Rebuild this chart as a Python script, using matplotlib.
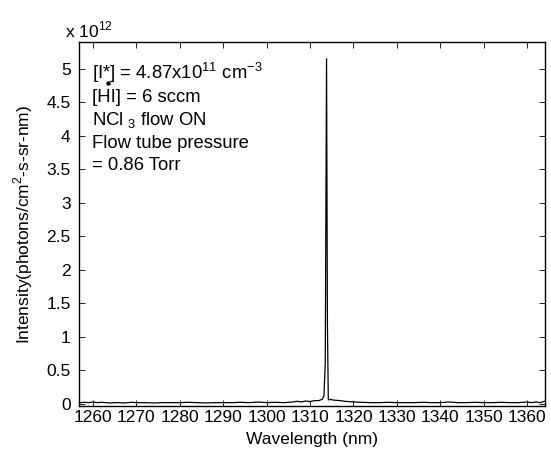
import matplotlib
matplotlib.use('Agg')
import matplotlib.pyplot as plt
import numpy as np

plt.rcParams['font.family'] = ['Liberation Sans', 'DejaVu Sans']
plt.rcParams['mathtext.fontset'] = 'custom'
plt.rcParams['mathtext.rm'] = 'Liberation Sans'

# ── data (intensity in units of 1e12) ──
wavelength = [1257.0, 1258.0, 1259.0, 1260.0, 1261.0, 1262.0, 1263.0, 1264.0,
              1265.0, 1266.0, 1267.0, 1268.0, 1269.0, 1270.0, 1272.0, 1274.0,
              1276.0, 1278.0, 1280.0, 1282.0, 1284.0, 1286.0, 1288.0, 1290.0,
              1292.0, 1294.0, 1296.0, 1298.0, 1300.0, 1302.0, 1304.0, 1306.0,
              1307.0, 1308.0, 1309.0, 1310.0, 1311.0, 1312.0, 1312.8, 1313.2,
              1313.5, 1313.8, 1314.0, 1314.2, 1314.4, 1314.7, 1315.2, 1316.0,
              1317.0, 1318.0, 1319.0, 1320.0, 1322.0, 1324.0, 1326.0, 1328.0,
              1330.0, 1332.0, 1334.0, 1336.0, 1338.0, 1340.0, 1342.0, 1344.0,
              1346.0, 1348.0, 1350.0, 1352.0, 1354.0, 1356.0, 1358.0, 1360.0,
              1361.0, 1362.0, 1363.0, 1364.0]
intensity = [0.02, 0.025, 0.02, 0.03, 0.02, 0.025, 0.02, 0.015,
             0.02, 0.02, 0.015, 0.02, 0.025, 0.02, 0.02, 0.015,
             0.02, 0.02, 0.02, 0.025, 0.02, 0.015, 0.02, 0.02,
             0.02, 0.025, 0.02, 0.03, 0.02, 0.025, 0.02, 0.03,
             0.04, 0.03, 0.045, 0.035, 0.05, 0.05, 0.07, 0.12,
             0.6, 5.15, 1.2, 0.07, 0.06, 0.07, 0.06, 0.055,
             0.05, 0.04, 0.035, 0.03, 0.025, 0.02, 0.02, 0.025,
             0.02, 0.02, 0.02, 0.025, 0.02, 0.02, 0.03, 0.02,
             0.02, 0.025, 0.02, 0.02, 0.025, 0.02, 0.02, 0.03,
             0.02, 0.03, 0.02, 0.04]

xticks = [1260, 1270, 1280, 1290, 1300, 1310, 1320, 1330, 1340, 1350, 1360]
yticks = [0, 0.5, 1, 1.5, 2, 2.5, 3, 3.5, 4, 4.5, 5]
ytick_labels = ['0', '0.5', '1', '1.5', '2', '2.5', '3', '3.5', '4', '4.5', '5']

annot_lines = [
    r'[I*] = 4.87x10$^{11}$ cm$^{-3}$',
    '[HI] = 6 sccm',
    r'NCl$_{\ 3}$ flow ON',
    'Flow tube pressure',
    '= 0.86 Torr',
]
annot_ypix = [73, 97, 120, 143, 166]

W, H = 551, 453
fig = plt.figure(figsize=(W / 100, H / 100), dpi=100)
ax = fig.add_axes([79 / W, 47 / H, 466 / W, 364 / H])

ax.plot(wavelength, intensity, color='black', linewidth=0.9)
# stray point seen in the original figure
ax.plot([1263.5], [4.79], marker='o', markersize=2.2, color='black')

ax.set_xlim(1256.8, 1364.1)
ax.set_ylim(-0.03, 5.40)
ax.set_xticks(xticks)
ax.set_yticks(yticks)
ax.set_yticklabels(ytick_labels)
ax.tick_params(direction='in', top=True, right=True, length=4, width=0.6,
               labelsize=12.5)
ax.tick_params(axis='y', pad=6)
ax.tick_params(axis='x', pad=3)
for s in ax.spines.values():
    s.set_linewidth(1.0)

ax.set_xlabel('Wavelength (nm)', fontsize=12.5, labelpad=5)
ax.set_ylabel(r'Intensity(photons/cm$^2$-s-sr-nm)', fontsize=12.5, labelpad=8)

fig.text(65 / W, 1 - 30 / H, r'x 10$^{12}$', fontsize=12.5, ha='left', va='center')

for line, yp in zip(annot_lines, annot_ypix):
    fig.text(92 / W, 1 - yp / H, line, fontsize=13.3, ha='left', va='center')

fig.savefig('out.png', dpi=100)
